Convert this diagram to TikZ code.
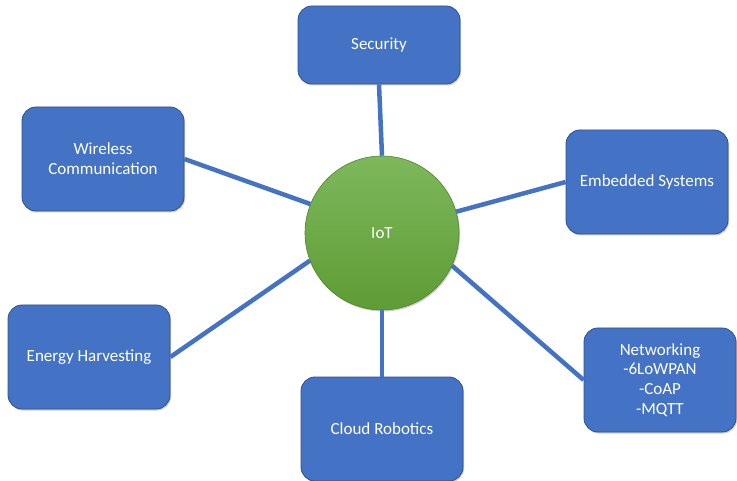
\documentclass[tikz,border=0pt]{standalone}
\usepackage{fontspec}
\setmainfont{Carlito}
\usetikzlibrary{shadows}
\definecolor{boxblue}{HTML}{4472C4}
\definecolor{boxedge}{HTML}{2F528F}
\definecolor{iotlight}{HTML}{7DB85C}
\definecolor{iotdark}{HTML}{5E9C34}

\begin{document}
\begin{tikzpicture}[x=1pt,y=-1pt,
	topic/.style={draw=boxedge, line width=0.8pt, fill=boxblue, rounded corners=14pt, text=white, align=center,
		minimum width=162pt, minimum height=104pt, inner sep=2pt, font=\fontsize{17}{19.8}\selectfont,
		drop shadow={shadow xshift=1pt, shadow yshift=-1.5pt, fill=black, opacity=0.2}},
	hub/.style={circle, draw=iotdark!85!black, line width=0.6pt, top color=iotlight, bottom color=iotdark, minimum size=154pt,
		text=white, font=\fontsize{17}{19.8}\selectfont,
		drop shadow={shadow xshift=1pt, shadow yshift=-1.5pt, fill=black, opacity=0.2}},
	link/.style={draw=boxblue, line width=4.5pt}]
	\useasboundingbox[fill=white] (0,0) rectangle (737,481);
	% hub and topics
	\node[hub] (iot) at (382,233) {IoT};
	\node[topic, minimum height=78pt] (sec) at (379,45) {Security};
	\node[topic] (wir) at (103,159) {Wireless\\Communication};
	\node[topic] (emb) at (647,182) {Embedded Systems};
	\node[topic] (ene) at (89,357) {Energy Harvesting};
	\node[topic] (clo) at (382,429) {Cloud Robotics};
	\node[topic, minimum width=152pt] (net) at (660,380) {Networking\\-6LoWPAN\\-CoAP\\-MQTT};
	% links
	\draw[link] (iot.90) -- (sec.south);
	\draw[link] (iot.158) -- (wir.east);
	\draw[link] (iot.16) -- (emb.west);
	\draw[link] (iot.201) -- (ene.east);
	\draw[link] (iot.270) -- (clo.north);
	\draw[link] (iot.-25) -- (net.west);
\end{tikzpicture}
\end{document}
